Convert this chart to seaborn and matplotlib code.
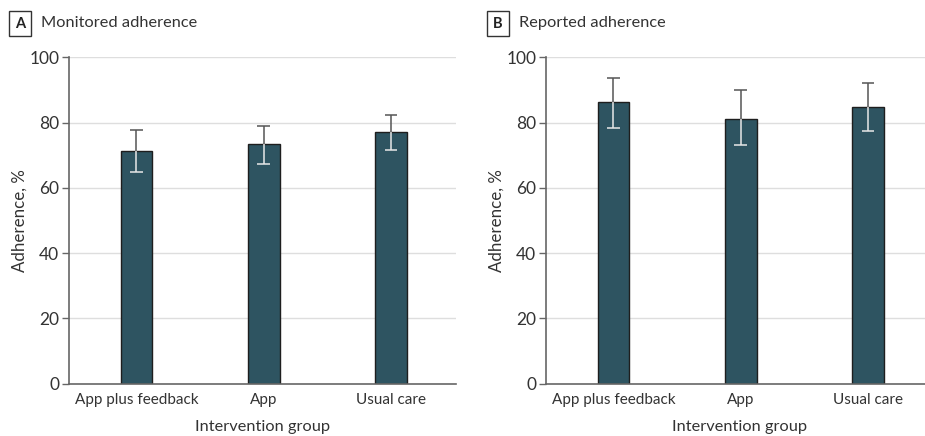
import matplotlib
matplotlib.use("Agg")
import matplotlib.pyplot as plt
import seaborn as sns
import pandas as pd
import numpy as np

categories = ["App plus feedback", "App", "Usual care"]
monitored_mean = [71.3, 73.3, 77.0]
monitored_low = [64.8, 67.2, 71.5]
monitored_high = [77.7, 79.1, 82.2]
reported_mean = [86.2, 81.2, 84.8]
reported_low = [78.4, 73.0, 77.5]
reported_high = [93.8, 89.9, 92.1]
yticks = [0, 20, 40, 60, 80, 100]
panel_letters = ["A", "B"]
panel_titles = ["Monitored adherence", "Reported adherence"]

sns.set_theme(style="white")
FONT = ["Lato", "DejaVu Sans"]
plt.rcParams["font.family"] = FONT

BAR = "#2e5461"
TXT = "#333333"
SPINE = "#666666"

fig = plt.figure(figsize=(9.25, 4.36), dpi=100)
W, H = 925, 436

def axes_px(left, right, top, bottom):
    return fig.add_axes([left / W, 1 - bottom / H, (right - left) / W, (bottom - top) / H])

ax_a = axes_px(69, 456, 57.3, 383.7)
ax_b = axes_px(546, 933, 57.3, 383.7)

panels = [
    (ax_a, monitored_mean, monitored_low, monitored_high),
    (ax_b, reported_mean, reported_low, reported_high),
]

for i, (ax, mean, low, high) in enumerate(panels):
    df = pd.DataFrame({"group": categories, "value": mean})
    for t in yticks[1:]:
        ax.axhline(t, color="#dedede", lw=1.0, zorder=0)
    sns.barplot(data=df, x="group", y="value", color=BAR, width=0.25,
                errorbar=None, saturation=1, edgecolor="#1e1e1e", linewidth=1.0,
                ax=ax, zorder=2)
    x = np.arange(len(categories))
    cap = 0.05
    ax.vlines(x, mean, high, color="#555555", lw=1.1, zorder=3)
    ax.hlines(high, x - cap, x + cap, color="#555555", lw=1.1, zorder=3)
    ax.vlines(x, low, mean, color="#e8e8e8", lw=1.1, zorder=3)
    ax.hlines(low, x - cap, x + cap, color="#e8e8e8", lw=1.1, zorder=3)

    ax.set_xlim(-0.53, 2.51)
    ax.set_ylim(0, 100)
    ax.set_yticks(yticks)
    ax.set_yticklabels([str(t) for t in yticks])
    for s in ["top", "right"]:
        ax.spines[s].set_visible(False)
    for s in ["left", "bottom"]:
        ax.spines[s].set_color(SPINE)
        ax.spines[s].set_linewidth(1.2)
    ax.tick_params(axis="y", which="major", length=5, width=1, color=SPINE,
                   labelsize=12.5, labelcolor=TXT, pad=2, left=True)
    ax.tick_params(axis="x", length=0, labelsize=11, labelcolor=TXT, pad=7)
    ax.set_xlabel("Intervention group", fontsize=11.8, color=TXT, labelpad=9)
    ax.set_ylabel("Adherence, %", fontsize=12.2, color=TXT, labelpad=1.5)

    lx = 20 / W if i == 0 else 498 / W
    fig.text(lx, 1 - 23.5 / H, panel_letters[i], fontsize=10.5, fontweight="bold",
             color="#222222", ha="center", va="center",
             bbox=dict(boxstyle="square,pad=0.4", fc="white", ec="#333333", lw=1))
    fig.text(lx + 21 / W, 1 - 23 / H, panel_titles[i], fontsize=11.8, color=TXT,
             ha="left", va="center")

fig.savefig("out.png", dpi=100)
